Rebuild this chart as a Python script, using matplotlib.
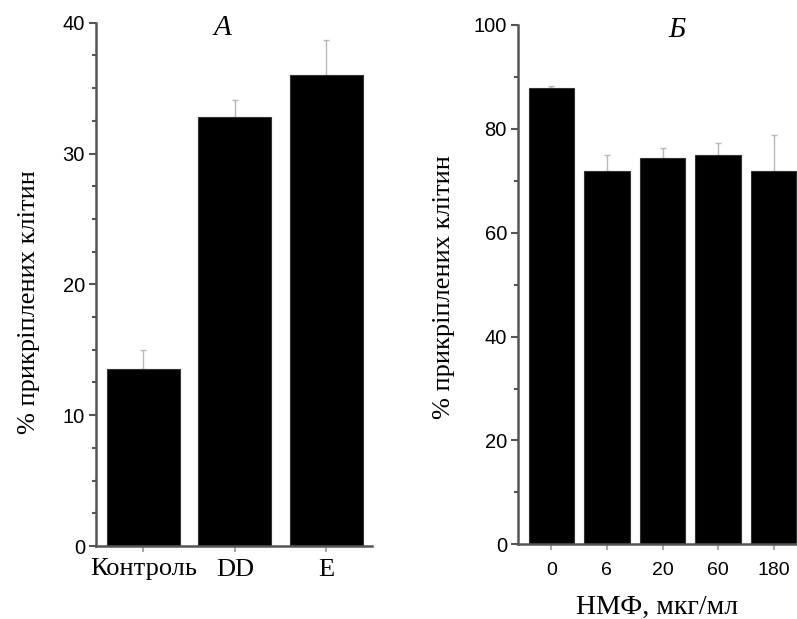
import matplotlib
matplotlib.use("Agg")
import matplotlib.pyplot as plt
import numpy as np

# Panel A
cats_a = ["Контроль", "DD", "E"]
vals_a = [13.5, 32.8, 36.0]
errs_a = [1.5, 1.3, 2.7]

# Panel B
cats_b = ["0", "6", "20", "60", "180"]
vals_b = [87.9, 71.8, 74.4, 74.9, 71.8]
errs_b = [0.3, 3.1, 1.9, 2.4, 7.1]

ylabel = "% прикріплених клітин"
xlabel_b = "НМФ, мкг/мл"

SERIF = "Liberation Serif"
SANS = "Liberation Sans"

fig = plt.figure(figsize=(7.97, 6.19), dpi=100)

axA = fig.add_axes([96/797, 1-546/619, (371.7-96)/797, (546-22.7)/619])
axB = fig.add_axes([518/797, 1-544.3/619, (797-518)/797, (544.3-25)/619])

spine_col = "#555555"
err_col = "#b8b8b8"

def style(ax):
    for s in ["top", "right"]:
        ax.spines[s].set_visible(False)
    for s in ["left", "bottom"]:
        ax.spines[s].set_color(spine_col)
        ax.spines[s].set_linewidth(1.8)
    ax.tick_params(axis="y", which="both", direction="out", color=spine_col, width=1.5)
    ax.tick_params(axis="y", which="major", length=5, pad=3, labelsize=14.5)
    ax.tick_params(axis="y", which="minor", length=3)
    ax.tick_params(axis="x", direction="out", color="#999999", width=1.2, length=4)
    for lab in ax.get_yticklabels():
        lab.set_fontfamily(SANS)

xa = np.arange(len(cats_a))
axA.bar(xa, vals_a, width=0.8, color="black", edgecolor="#333333", linewidth=0.8, zorder=2)
axA.errorbar(xa, vals_a, yerr=[np.zeros(len(errs_a)), errs_a], fmt="none",
             ecolor=err_col, elinewidth=1.0, capsize=2.5, capthick=1.0, zorder=1)
axA.set_xlim(-0.52, 2.5)
axA.set_ylim(0, 40)
axA.set_yticks([0, 10, 20, 30, 40])
axA.set_yticks(np.arange(0, 40.1, 2.5), minor=True)
axA.set_xticks(xa)
axA.set_xticklabels(cats_a, fontfamily=SERIF, fontsize=19)
style(axA)
axA.tick_params(axis="x", pad=5)
axA.text(0.457, 1.015, "A", transform=axA.transAxes, fontfamily=SERIF, style="italic",
         fontsize=21, ha="center", va="top")
fig.text(29/797, 1-301.7/619, ylabel, rotation=90, fontfamily=SERIF, fontsize=19,
         ha="center", va="center")

xb = np.arange(len(cats_b))
axB.bar(xb, vals_b, width=0.82, color="black", edgecolor="#333333", linewidth=0.8, zorder=2)
axB.errorbar(xb, vals_b, yerr=[np.zeros(len(errs_b)), errs_b], fmt="none",
             ecolor=err_col, elinewidth=1.0, capsize=2.5, capthick=1.0, zorder=1)
axB.set_xlim(-0.6, 4.42)
axB.set_ylim(0, 100)
axB.set_yticks([0, 20, 40, 60, 80, 100])
axB.set_yticks(np.arange(0, 100.1, 10), minor=True)
axB.set_xticks(xb)
axB.set_xticklabels(cats_b, fontfamily=SANS, fontsize=14)
style(axB)
axB.tick_params(axis="x", pad=9)
axB.set_xlabel(xlabel_b, fontfamily=SERIF, fontsize=20, labelpad=11)
axB.text(0.569, 1.015, "Б", transform=axB.transAxes, fontfamily=SERIF, style="italic",
         fontsize=21, ha="center", va="top")
fig.text(444/797, 1-287/619, ylabel, rotation=90, fontfamily=SERIF, fontsize=19,
         ha="center", va="center")

fig.savefig("out.png", dpi=100)
